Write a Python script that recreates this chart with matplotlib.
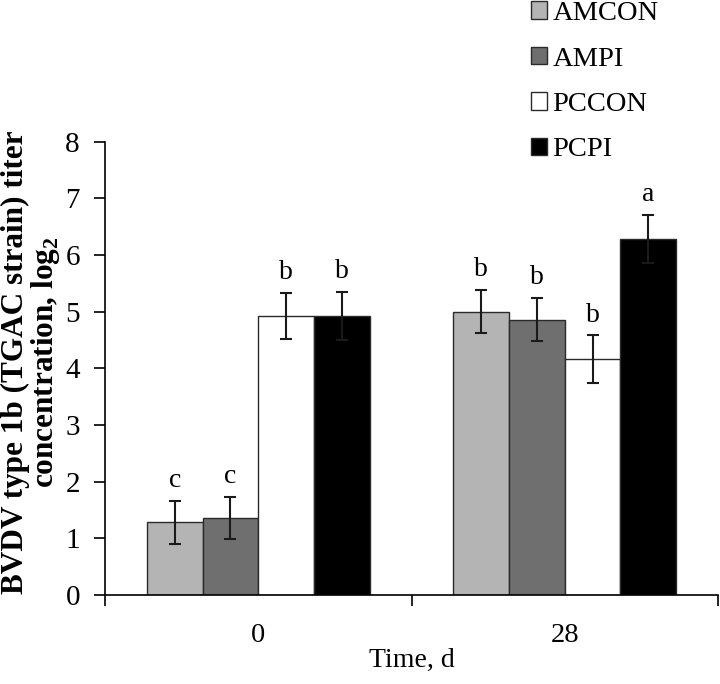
import matplotlib
matplotlib.use("Agg")
import matplotlib.pyplot as plt
import numpy as np
from matplotlib.patches import Patch

plt.rcParams['font.family'] = ['Liberation Serif', 'DejaVu Serif']
plt.rcParams['mathtext.fontset'] = 'custom'
plt.rcParams['mathtext.rm'] = 'Liberation Serif'
plt.rcParams['mathtext.bf'] = 'Liberation Serif:bold'

categories = ["0", "28"]
series = ["AMCON", "AMPI", "PCCON", "PCPI"]
values = {
    "AMCON": [1.28, 5.00],
    "AMPI": [1.36, 4.86],
    "PCCON": [4.92, 4.16],
    "PCPI": [4.92, 6.28],
}
errors = {
    "AMCON": [0.38, 0.38],
    "AMPI": [0.37, 0.38],
    "PCCON": [0.41, 0.42],
    "PCPI": [0.42, 0.42],
}
letters = {
    "AMCON": ["c", "b"],
    "AMPI": ["c", "b"],
    "PCCON": ["b", "b"],
    "PCPI": ["b", "a"],
}
colors = {"AMCON": "#b4b4b4", "AMPI": "#6f6f6f", "PCCON": "#ffffff", "PCPI": "#000000"}

fig = plt.figure(figsize=(7.2, 6.84), dpi=100)
ax = fig.add_axes([105/720, 1-595/684, (718-105)/720, (595-141.7)/684])

x = np.arange(len(categories))
bw = 0.1815
for i, s in enumerate(series):
    pos = x + (i - 1.5) * bw
    ax.bar(pos, values[s], width=bw, color=colors[s], edgecolor="#2a2a2a", linewidth=1.0,
           label=s, zorder=2)
    ax.errorbar(pos, values[s], yerr=errors[s], fmt="none", ecolor="#1a1a1a",
                elinewidth=1.5, capsize=4, capthick=1.5, zorder=3)
    for p, v, e, t in zip(pos, values[s], errors[s], letters[s]):
        ax.text(p, v + e + 0.14, t, ha="center", va="bottom", fontsize=20)

ax.set_xlim(-0.5, 1.5)
ax.set_ylim(0, 8)
ax.set_yticks(range(0, 9))
ax.set_xticks(x)
ax.set_xticklabels(categories)
ax.set_xticks([-0.5, 0.5, 1.5], minor=True)
ax.tick_params(axis="x", which="major", length=0, pad=20, labelsize=20.5)
ax.tick_params(axis="x", which="minor", length=8, width=1.2, direction="out")
ax.tick_params(axis="y", length=8, width=1.2, direction="out", labelsize=21, pad=10)
for sp in ["top", "right"]:
    ax.spines[sp].set_visible(False)
ax.spines["left"].set_linewidth(1.2)
ax.spines["bottom"].set_linewidth(1.2)

ax.set_xlabel("Time, d", fontsize=20)
ax.xaxis.set_label_coords(0.5, -(660-595)/(595-141.7), transform=ax.transAxes)
ax.xaxis.label.set_va("center")
ax.set_ylabel("BVDV type 1b (TGAC strain) titer\nconcentration, log$_\\mathbf{2}$",
              fontsize=22.5, fontweight="bold", linespacing=0.95)
ax.yaxis.set_label_coords(-(105-1)/613, (595-362)/(595-141.7), transform=ax.transAxes)
ax.yaxis.label.set_va("top")

handles = [Patch(facecolor=colors[s], edgecolor="#2a2a2a", label=s) for s in series]
fig.legend(handles=handles, loc="upper left", bbox_to_anchor=(531/720, 1.0 - 1/684),
           frameon=False, fontsize=20.5, handlelength=0.56, handleheight=0.56,
           handletextpad=0.2, labelspacing=0.72, borderaxespad=0, borderpad=0)

fig.savefig("out.png", dpi=100)
